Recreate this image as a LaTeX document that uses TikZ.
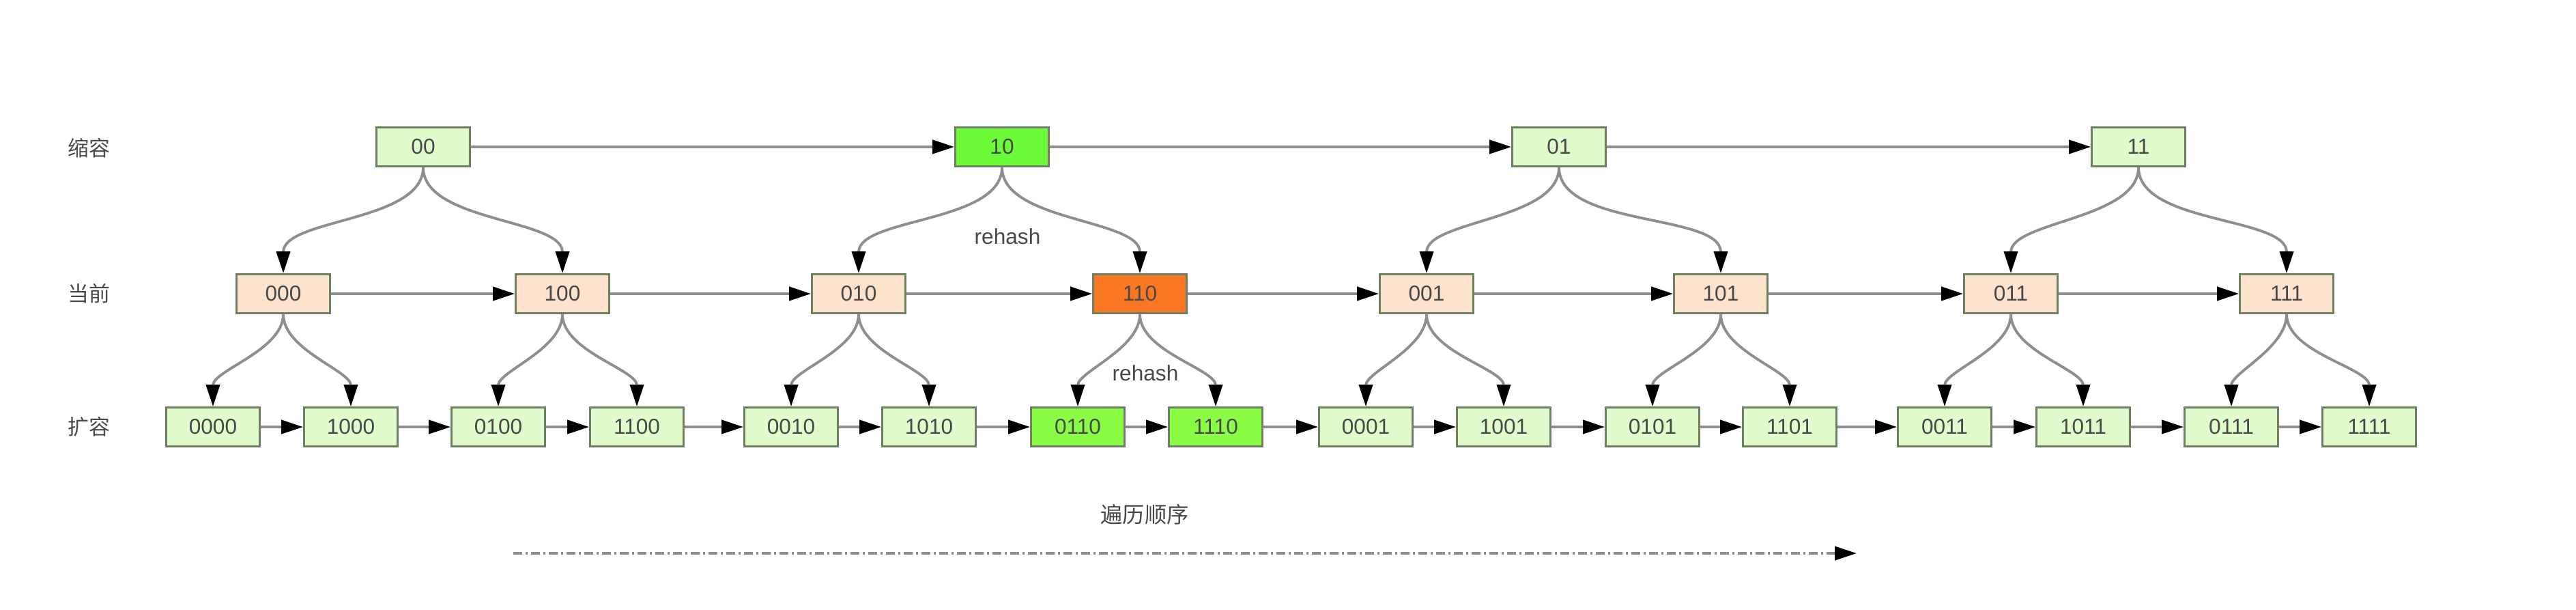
\documentclass[tikz,border=0pt]{standalone}
\usepackage{fontspec}
\setmainfont{Liberation Sans}
\newfontfamily\cjk{Noto Sans CJK SC}
\usetikzlibrary{arrows.meta}

\definecolor{boxline}{HTML}{6F7F64}
\definecolor{textgray}{HTML}{484848}
\definecolor{linegray}{HTML}{8E8E8E}
\definecolor{palegreen}{HTML}{E0FCCC}
\definecolor{peach}{HTML}{FDE3CB}
\definecolor{hotgreen}{HTML}{6CFB38}
\definecolor{newgreen}{HTML}{8BFC46}
\definecolor{hotorange}{HTML}{FD7824}

\tikzset{
    slot/.style = {draw = boxline, line width = 0.8pt, fill = palegreen, text = textgray,
        minimum width = 1.37cm, minimum height = 0.57cm, inner sep = 0pt,
        font = \fontsize{9}{10}\selectfont},
    cur/.style = {slot, fill = peach},
    label/.style = {text = textgray, font = \cjk\fontsize{8.8}{10}\selectfont},
    link/.style = {draw = linegray, line width = 1.1pt,
        -{Triangle[length = 0.32cm, width = 0.2cm, color = black]}},
    split/.style = {link, looseness = 0.8},
    order/.style = {link, dash pattern = on 0.13cm off 0.05cm on 0.03cm off 0.05cm}
}

\begin{document}
\begin{tikzpicture}
        \useasboundingbox (0,0) rectangle (37.74,-8.92);

        \node (lshrink) at (1.30,-2.17) [label] {缩容};
        \node (lcur) at (1.30,-4.30) [label] {当前};
        \node (lgrow) at (1.30,-6.25) [label] {扩容};

        \node (s00) at (6.20,-2.15) [slot] {00};
        \node (s10) at (14.68,-2.15) [slot, fill = hotgreen] {10};
        \node (s01) at (22.84,-2.15) [slot] {01};
        \node (s11) at (31.33,-2.15) [slot] {11};

        \node (c000) at (4.15,-4.30) [cur] {000};
        \node (c100) at (8.24,-4.30) [cur] {100};
        \node (c010) at (12.58,-4.30) [cur] {010};
        \node (c110) at (16.70,-4.30) [cur, fill = hotorange] {110};
        \node (c001) at (20.90,-4.30) [cur] {001};
        \node (c101) at (25.21,-4.30) [cur] {101};
        \node (c011) at (29.46,-4.30) [cur] {011};
        \node (c111) at (33.50,-4.30) [cur] {111};

        \node (g0000) at (3.12,-6.25) [slot] {0000};
        \node (g1000) at (5.14,-6.25) [slot] {1000};
        \node (g0100) at (7.30,-6.25) [slot] {0100};
        \node (g1100) at (9.33,-6.25) [slot] {1100};
        \node (g0010) at (11.59,-6.25) [slot] {0010};
        \node (g1010) at (13.61,-6.25) [slot] {1010};
        \node (g0110) at (15.79,-6.25) [slot, fill = newgreen] {0110};
        \node (g1110) at (17.81,-6.25) [slot, fill = newgreen] {1110};
        \node (g0001) at (20.01,-6.25) [slot] {0001};
        \node (g1001) at (22.03,-6.25) [slot] {1001};
        \node (g0101) at (24.21,-6.25) [slot] {0101};
        \node (g1101) at (26.22,-6.25) [slot] {1101};
        \node (g0011) at (28.49,-6.25) [slot] {0011};
        \node (g1011) at (30.52,-6.25) [slot] {1011};
        \node (g0111) at (32.69,-6.25) [slot] {0111};
        \node (g1111) at (34.71,-6.25) [slot] {1111};

        % rows, left to right
        \draw [link] (s00) -- (s10);
        \draw [link] (s10) -- (s01);
        \draw [link] (s01) -- (s11);

        \draw [link] (c000) -- (c100);
        \draw [link] (c100) -- (c010);
        \draw [link] (c010) -- (c110);
        \draw [link] (c110) -- (c001);
        \draw [link] (c001) -- (c101);
        \draw [link] (c101) -- (c011);
        \draw [link] (c011) -- (c111);

        \draw [link] (g0000) -- (g1000);
        \draw [link] (g1000) -- (g0100);
        \draw [link] (g0100) -- (g1100);
        \draw [link] (g1100) -- (g0010);
        \draw [link] (g0010) -- (g1010);
        \draw [link] (g1010) -- (g0110);
        \draw [link] (g0110) -- (g1110);
        \draw [link] (g1110) -- (g0001);
        \draw [link] (g0001) -- (g1001);
        \draw [link] (g1001) -- (g0101);
        \draw [link] (g0101) -- (g1101);
        \draw [link] (g1101) -- (g0011);
        \draw [link] (g0011) -- (g1011);
        \draw [link] (g1011) -- (g0111);
        \draw [link] (g0111) -- (g1111);

        % splits
        \draw [split] (s00.south) to [out = -90, in = 90] (c000.north);
        \draw [split] (s00.south) to [out = -90, in = 90] (c100.north);
        \draw [split] (s10.south) to [out = -90, in = 90] (c010.north);
        \draw [split] (s10.south) to [out = -90, in = 90] (c110.north);
        \draw [split] (s01.south) to [out = -90, in = 90] (c001.north);
        \draw [split] (s01.south) to [out = -90, in = 90] (c101.north);
        \draw [split] (s11.south) to [out = -90, in = 90] (c011.north);
        \draw [split] (s11.south) to [out = -90, in = 90] (c111.north);

        \draw [split] (c000.south) to [out = -90, in = 90] (g0000.north);
        \draw [split] (c000.south) to [out = -90, in = 90] (g1000.north);
        \draw [split] (c100.south) to [out = -90, in = 90] (g0100.north);
        \draw [split] (c100.south) to [out = -90, in = 90] (g1100.north);
        \draw [split] (c010.south) to [out = -90, in = 90] (g0010.north);
        \draw [split] (c010.south) to [out = -90, in = 90] (g1010.north);
        \draw [split] (c110.south) to [out = -90, in = 90] (g0110.north);
        \draw [split] (c110.south) to [out = -90, in = 90] (g1110.north);
        \draw [split] (c001.south) to [out = -90, in = 90] (g0001.north);
        \draw [split] (c001.south) to [out = -90, in = 90] (g1001.north);
        \draw [split] (c101.south) to [out = -90, in = 90] (g0101.north);
        \draw [split] (c101.south) to [out = -90, in = 90] (g1101.north);
        \draw [split] (c011.south) to [out = -90, in = 90] (g0011.north);
        \draw [split] (c011.south) to [out = -90, in = 90] (g1011.north);
        \draw [split] (c111.south) to [out = -90, in = 90] (g0111.north);
        \draw [split] (c111.south) to [out = -90, in = 90] (g1111.north);

        \node (rh1) at (14.76,-3.46) [text = textgray, font = \fontsize{9}{10}\selectfont] {rehash};
        \node (rh2) at (16.78,-5.46) [text = textgray, font = \fontsize{9}{10}\selectfont] {rehash};

        \node (olabel) at (16.77,-7.53) [label, font = \cjk\fontsize{9.2}{10}\selectfont] {遍历顺序};
        \coordinate (ostart) at (7.52,-8.10);
        \coordinate (oend) at (27.20,-8.10);
        \draw [order] (ostart) -- (oend);
    \end{tikzpicture}
\end{document}
